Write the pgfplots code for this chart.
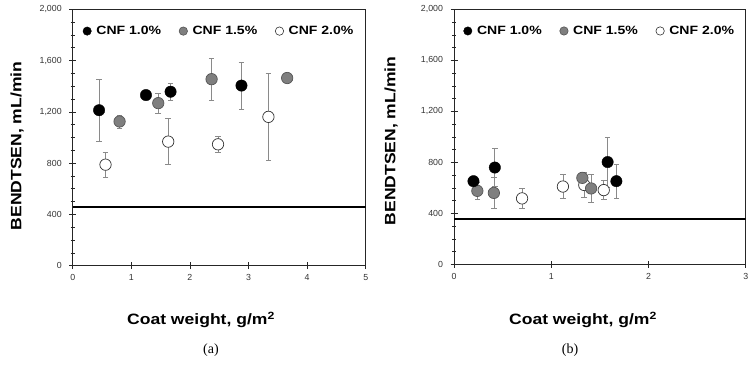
\documentclass[border=0pt]{standalone}
\usepackage{pgfplots}
\pgfplotsset{compat=1.18}
\usepackage{fontspec}
\setmainfont{Liberation Sans}
\newfontfamily\labfont[FakeStretch=1.17]{Liberation Sans}
\newfontfamily\serifcap{Liberation Serif}
\definecolor{gfill}{HTML}{7F7F7F}
\definecolor{gedge}{HTML}{555555}
\definecolor{ebar}{HTML}{8A8A8A}
\pgfplotsset{
  myaxis/.style={
    scale only axis,
    anchor=south west,
    ymin=0, ymax=2000,
    ytick={0,400,...,2000},
    minor y tick num=3,
    /pgf/number format/assume math mode=true,
    /pgf/number format/1000 sep={,},
    tick label style={font=\fontsize{8.8}{10}\selectfont, text=black!80},
    yticklabel style={xshift=-4pt},
    xticklabel style={yshift=-2pt},
    xtick pos=left, ytick pos=left,
    tick align=center,
    major tick length=7pt, minor tick length=4pt,
    every tick/.style={black!85, line width=0.6pt},
    axis line style={black!85, line width=0.8pt},
    legend style={at={(0.5,0.915)}, anchor=center, draw=none, fill=none,
      font=\labfont\fontsize{12}{14}\selectfont\bfseries,
      /tikz/every odd column/.append style={column sep=3pt},
      /tikz/every even column/.append style={column sep=16pt}},
    legend columns=3,
    legend image code/.code={\draw[##1] plot coordinates {(0pt,0pt)};},
    legend cell align=left,
  },
  s1/.style={only marks, mark=*, mark size=5.7pt, mark options={fill=black, draw=black},
    error bars/.cd, y dir=both, y explicit, error mark options={ebar, rotate=90, mark size=2.8pt, line width=0.7pt},
    error bar style={ebar, line width=0.7pt}, /pgfplots/.cd},
  s2/.style={only marks, mark=*, mark size=5.7pt, mark options={fill=gfill, draw=gedge, line width=0.7pt},
    error bars/.cd, y dir=both, y explicit, error mark options={ebar, rotate=90, mark size=2.8pt, line width=0.7pt},
    error bar style={ebar, line width=0.7pt}, /pgfplots/.cd},
  s3/.style={only marks, mark=*, mark size=5.7pt, mark options={fill=white, draw=black!80, line width=0.7pt},
    error bars/.cd, y dir=both, y explicit, error mark options={ebar, rotate=90, mark size=2.8pt, line width=0.7pt},
    error bar style={ebar, line width=0.7pt}, /pgfplots/.cd},
  l1/.style={only marks, mark=*, mark size=4.2pt, mark options={fill=black, draw=black}},
  l2/.style={only marks, mark=*, mark size=4.2pt, mark options={fill=gfill, draw=gedge, line width=0.6pt}},
  l3/.style={only marks, mark=*, mark size=4.2pt, mark options={fill=white, draw=black!80, line width=0.6pt}},
}
\begin{document}
\begin{tikzpicture}
\useasboundingbox (0pt,0pt) rectangle (756pt,368pt);
% ---------- panel (a)
\begin{axis}[myaxis, at={(72.7pt,102.3pt)}, width=293pt, height=256.4pt,
  xmin=0, xmax=5, xtick={0,1,2,3,4,5}]
\addplot[forget plot, s3] coordinates {
 (0.56,788) +- (0,100)
 (1.63,968) +- (0,180)
 (2.48,947) +- (0,65)
 (3.34,1161) +- (0,340)
};
\addplot[forget plot, s2] coordinates {
 (0.80,1125) +- (0,50)
 (1.46,1268) +- (0,80)
 (2.37,1455) +- (0,165)
 (3.66,1464) +- (0,20)
};
\addplot[forget plot, s1] coordinates {
 (0.45,1213) +- (0,240)
 (1.25,1331) +- (0,30)
 (1.67,1357) +- (0,65)
 (2.88,1405) +- (0,185)
};
\addplot[black, line width=1.6pt, forget plot] coordinates {(0,460) (5,460)};
\addlegendimage{l1}
\addlegendentry{CNF 1.0\%}
\addlegendimage{l2}
\addlegendentry{CNF 1.5\%}
\addlegendimage{l3}
\addlegendentry{CNF 2.0\%}
\end{axis}
% ---------- panel (b)
\begin{axis}[myaxis, at={(454pt,103.7pt)}, width=291.7pt, height=255pt,
  xmin=0, xmax=3, xtick={0,1,2,3}]
\addplot[forget plot, s3] coordinates {
 (0.70,517) +- (0,75)
 (1.12,610) +- (0,95)
 (1.34,622) +- (0,100)
 (1.54,582) +- (0,75)
};
\addplot[forget plot, s2] coordinates {
 (0.24,576) +- (0,70)
 (0.41,560) +- (0,120)
 (1.32,678) +- (0,30)
 (1.41,595) +- (0,110)
};
\addplot[forget plot, s1] coordinates {
 (0.20,652) +- (0,25)
 (0.42,759) +- (0,150)
 (1.58,802) +- (0,195)
 (1.67,652) +- (0,135)
};
\addplot[black, line width=1.6pt, forget plot] coordinates {(0,356) (3,356)};
\addlegendimage{l1}
\addlegendentry{CNF 1.0\%}
\addlegendimage{l2}
\addlegendentry{CNF 1.5\%}
\addlegendimage{l3}
\addlegendentry{CNF 2.0\%}
\end{axis}
% ---------- labels
\node[rotate=90, font=\labfont\fontsize{15}{17}\selectfont\bfseries] at (17pt,222pt) {BENDTSEN, mL/min};
\node[rotate=90, font=\labfont\fontsize{15}{17}\selectfont\bfseries] at (391pt,227pt) {BENDTSEN, mL/min};
\node[font=\labfont\fontsize{15}{17}\selectfont\bfseries] at (201pt,48pt) {Coat weight, g/m\textsuperscript{2}};
\node[font=\labfont\fontsize{15}{17}\selectfont\bfseries] at (583pt,48pt) {Coat weight, g/m\textsuperscript{2}};
\node[font=\serifcap\fontsize{14}{16}\selectfont] at (211pt,18pt) {(a)};
\node[font=\serifcap\fontsize{14}{16}\selectfont] at (570pt,18pt) {(b)};
\end{tikzpicture}
\end{document}
